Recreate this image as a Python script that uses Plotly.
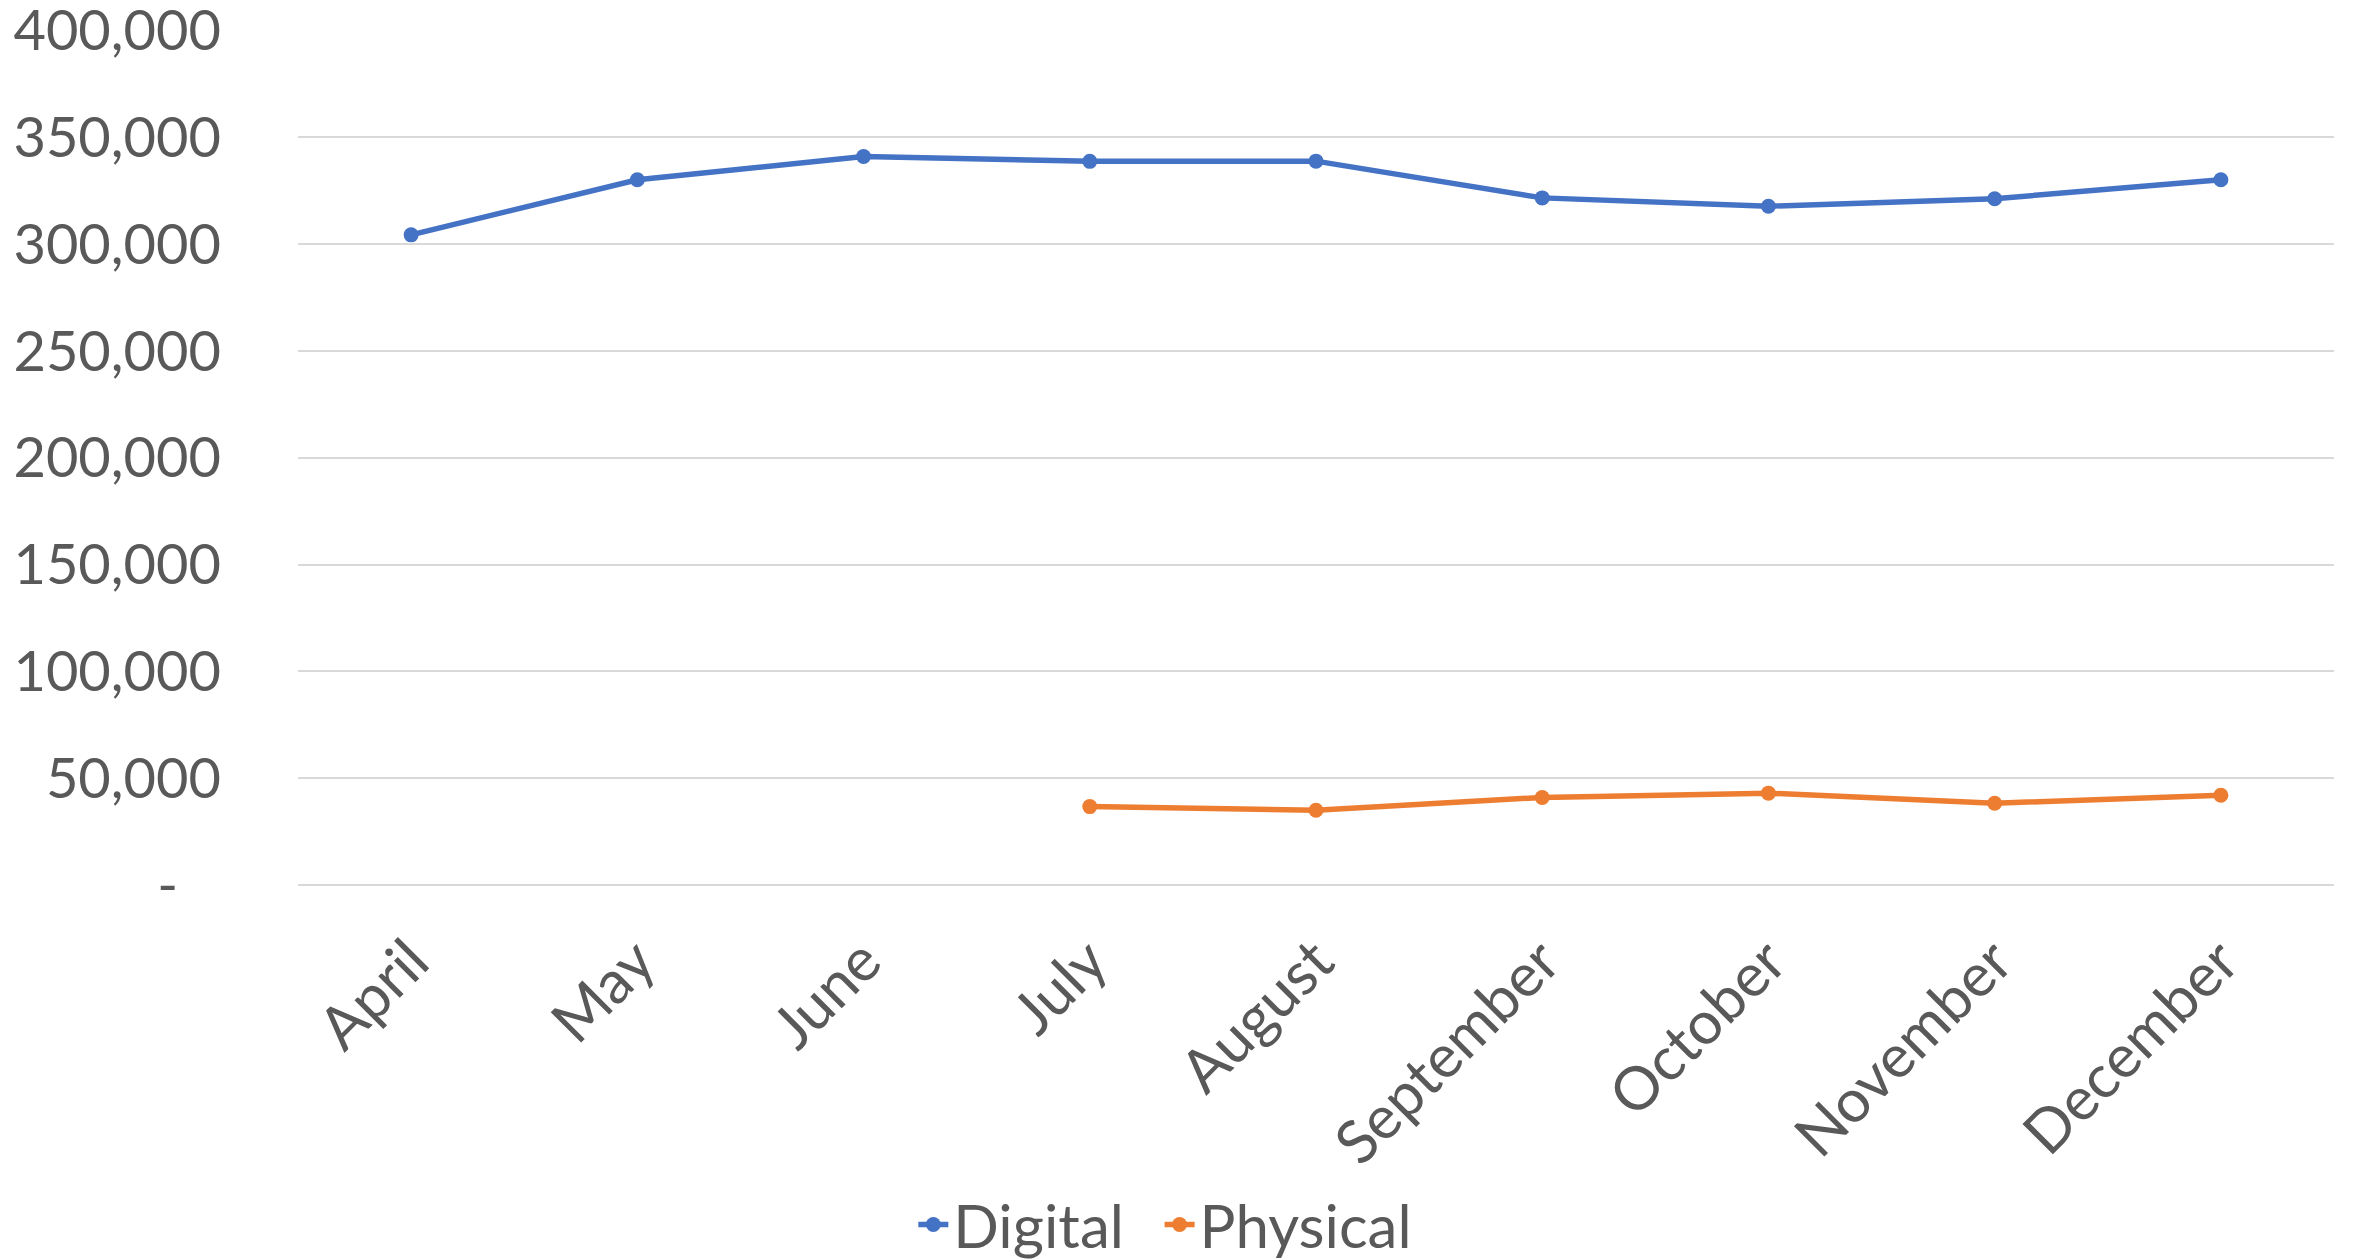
import plotly.graph_objects as go

months = ["April", "May", "June", "July", "August", "September", "October", "November", "December"]
digital = [304400, 330200, 341100, 338800, 338900, 321700, 317800, 321300, 330200]
physical = [None, None, None, 36700, 35000, 41000, 43000, 38300, 42000]
ytick_vals = [0, 50000, 100000, 150000, 200000, 250000, 300000, 350000, 400000]
ytick_text = ["-\u00a0\u00a0\u00a0", "50,000", "100,000", "150,000", "200,000", "250,000", "300,000", "350,000", "400,000"]

FONT = "Lato"
TXT = "#595959"

fig = go.Figure()
fig.add_trace(go.Scatter(x=months, y=digital, name="Digital\u00a0\u00a0", mode="lines+markers",
                         line=dict(color="#4472C4", width=5.5),
                         marker=dict(size=15, color="#4472C4")))
fig.add_trace(go.Scatter(x=months, y=physical, name="Physical", mode="lines+markers",
                         line=dict(color="#ED7D31", width=5.5),
                         marker=dict(size=15, color="#ED7D31"),
                         connectgaps=False))

fig.update_layout(
    width=2353, height=1260,
    margin=dict(l=290, r=27, t=22, b=383, autoexpand=False),
    paper_bgcolor="white", plot_bgcolor="white",
    font=dict(family=FONT, size=56, color=TXT),
    showlegend=True,
    legend=dict(orientation="h", x=0.426, xanchor="center",
                y=-0.397, yanchor="middle",
                font=dict(family=FONT, size=60, color=TXT),
                tracegroupgap=0),
)
fig.update_xaxes(type="category", range=[-0.5, 8.5], showgrid=False, showline=False,
                 zeroline=False, tickangle=-45, ticklabelstandoff=28,
                 tickfont=dict(family=FONT, size=60, color=TXT))
fig.update_yaxes(range=[0, 400300], tickvals=ytick_vals, ticktext=ytick_text,
                 showgrid=True, gridcolor="#d9d9d9", gridwidth=2,
                 zeroline=True, zerolinecolor="#d9d9d9", zerolinewidth=2,
                 showline=False, ticklabelstandoff=76, ticklabeloverflow="allow",
                 tickfont=dict(family=FONT, size=56, color=TXT))

fig.write_html("out.html")
